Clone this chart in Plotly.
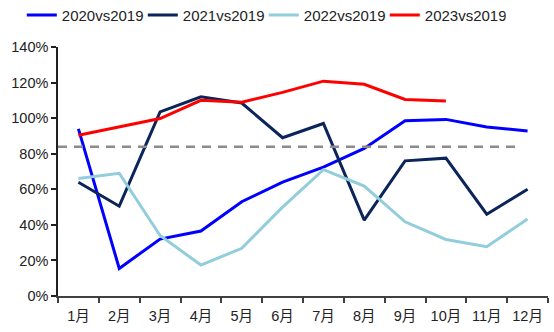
import plotly.graph_objects as go

months = ["1月", "2月", "3月", "4月", "5月", "6月", "7月", "8月", "9月", "10月", "11月", "12月"]

# Monthly ratio versus 2019 (%)
v2020 = [94, 15.5, 32, 36.5, 53, 64, 72.5, 83, 98.5, 99.3, 95, 92.8]
v2021 = [64, 50.5, 103.5, 112, 108.5, 89, 97, 42.7, 76, 77.5, 46, 60]
v2022 = [66, 69, 34, 17.4, 26.8, 50, 71, 61.8, 41.7, 31.8, 27.7, 43.3]
v2023 = [90.4, 95, 99.8, 110, 109, 114.5, 120.8, 119, 110.5, 109.7]

series_names = ["2020vs2019", "2021vs2019", "2022vs2019", "2023vs2019"]
series_colors = ["#0000FF", "#0B2459", "#92CDDC", "#FF0000"]
reference_level = 83.9

FONT = "Arial, 'Liberation Sans', 'Noto Sans CJK SC', sans-serif"

fig = go.Figure()
for name, vals, color in zip(series_names, [v2020, v2021, v2022, v2023], series_colors):
    fig.add_trace(go.Scatter(
        x=months[:len(vals)], y=vals, name=name, mode="lines",
        line=dict(color=color, width=3),
    ))

# dashed average reference line
fig.add_shape(type="line", xref="paper", yref="y", x0=0, x1=0.933,
              y0=reference_level, y1=reference_level,
              line=dict(color="#8C8C8C", width=2.5, dash="9px,7px"))

fig.update_layout(
    width=554, height=332,
    margin=dict(l=58, r=6, t=47, b=36, autoexpand=False),
    paper_bgcolor="white", plot_bgcolor="white",
    font=dict(family=FONT, size=14.5, color="#222222"),
    showlegend=True,
    legend=dict(orientation="h", x=0.42, xanchor="center", y=1.128, yanchor="middle",
                font=dict(size=15), entrywidth=76, entrywidthmode="pixels",
                tracegroupgap=0, bgcolor="rgba(0,0,0,0)"),
)
fig.update_xaxes(
    type="category", categoryorder="array", categoryarray=months,
    range=[-0.5, 11.5], tickson="boundaries", tickangle=0, ticklabelstandoff=6,
    showline=True, linecolor="#404040", linewidth=1.5,
    ticks="outside", ticklen=5, tickcolor="#404040", tickwidth=1.5,
    showgrid=False, zeroline=False, automargin=False,
)
fig.update_yaxes(
    range=[0, 140], dtick=20, ticksuffix="%",
    showline=True, linecolor="#202020", linewidth=1.5,
    ticks="outside", ticklen=5, tickcolor="#202020", tickwidth=1.5,
    showgrid=False, zeroline=False, automargin=False,
)

fig.write_html("out.html")
